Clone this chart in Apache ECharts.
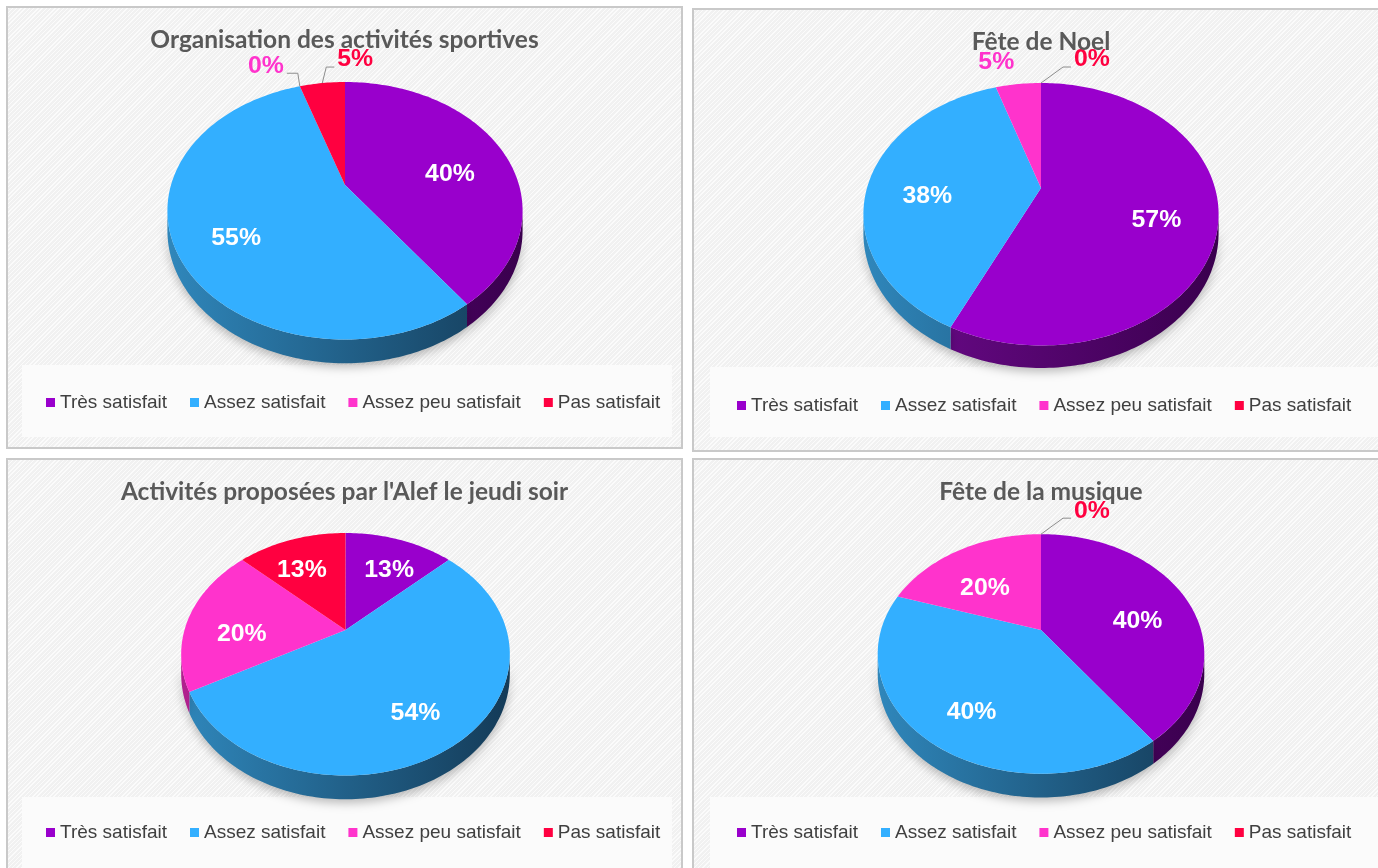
<!DOCTYPE html>
<html>
<head>
<meta charset="utf-8">
<script src="https://cdn.jsdelivr.net/npm/echarts@6/dist/echarts.min.js"></script>
<style>
  body { margin: 0; width: 1378px; height: 868px; overflow: hidden; background: #ffffff; position: relative; }
  .panel {
    position: absolute; box-sizing: border-box; border: 2px solid #c9c9c9;
    background-color: #f1f1f1;
    background-image: repeating-linear-gradient(135deg, rgba(255,255,255,0.75) 0px, rgba(255,255,255,0.75) 1px, transparent 1px, transparent 3px);
  }
  .legbox { position: absolute; background: #fbfbfb; }
  .chart { position: absolute; }
</style>
</head>
<body>
<div class="panel" style="left:6px;top:6px;width:677px;height:443px"><div class="legbox" style="left:14px;top:357px;width:650px;height:72px"></div></div>
<div class="panel" style="left:692px;top:8px;width:698px;height:444px"><div class="legbox" style="left:16px;top:357px;width:690px;height:70px"></div></div>
<div class="panel" style="left:6px;top:458px;width:677px;height:420px"><div class="legbox" style="left:14px;top:337px;width:650px;height:80px"></div></div>
<div class="panel" style="left:692px;top:458px;width:698px;height:420px"><div class="legbox" style="left:16px;top:337px;width:690px;height:80px"></div></div>

<div id="p1" class="chart" style="left:6px;top:6px;width:677px;height:443px"></div>
<div id="p2" class="chart" style="left:692px;top:8px;width:698px;height:444px"></div>
<div id="p3" class="chart" style="left:6px;top:458px;width:677px;height:420px"></div>
<div id="p4" class="chart" style="left:692px;top:458px;width:698px;height:420px"></div>

<script>
// données (%)
var categories = ['Très satisfait', 'Assez satisfait', 'Assez peu satisfait', 'Pas satisfait']
var titles = ['Organisation des activités sportives', 'Fête de Noel', "Activités proposées par l'Alef le jeudi soir", 'Fête de la musique']
var sportives = [40, 55, 0, 5]
var noel = [57, 38, 5, 0]
var jeudi = [13, 54, 20, 13]
var musique = [40, 40, 20, 0]

var colors = ['#9900cc', '#33afff', '#ff33cc', '#ff0040']
var sideColors = [['#6e0a8e', '#3a004e'], ['#2f86ba', '#143b58'], ['#b0208e', '#6d1057'], ['#b00030', '#6a0020']]

var K = 0.2 // perspective
var EDGE = Math.asin(K) // contour apparent de la tranche

// positions des camemberts (coordonnées locales de chaque panneau)
var panels = [
  { id: 'p1', values: sportives, title: titles[0], cx: 339, cy: 179, rx: 174, ry: 123.6, depth: 19, legendLeft: 35, legendTop: 382 },
  { id: 'p2', values: noel, title: titles[1], cx: 349, cy: 180, rx: 174, ry: 126, depth: 18, legendLeft: 40, legendTop: 383 },
  { id: 'p3', values: jeudi, title: titles[2], cx: 339.5, cy: 172, rx: 161, ry: 116.4, depth: 19, legendLeft: 35, legendTop: 360 },
  { id: 'p4', values: musique, title: titles[3], cx: 349, cy: 172, rx: 160, ry: 115, depth: 19, legendLeft: 40, legendTop: 360 }
]

function proj(p, ang, r, down) {
  var u = Math.cos(ang) * r
  var v = Math.sin(ang) * r
  var s = 1 / (1 - K * v)
  return [p.cx + p.rx * u * s, p.cy + (p.ry * v + (down || 0)) * s]
}

function makeRender(p, i) {
  return function(params, api) {
    var vals = p.values
    var total = 0
    var before = 0
    var lastSmall = -1
    for (var j = 0; j < vals.length; j++) {
      total += vals[j]
      if (j < i) before += vals[j]
    }
    for (j = 0; j < vals.length; j++) {
      if (vals[j] / total < 0.1) lastSmall = j
    }
    var val = api.value(0)
    var frac = val / total
    var a0 = -Math.PI / 2 + 2 * Math.PI * before / total
    var a1 = a0 + 2 * Math.PI * frac
    var children = []
    var n, k
    if (a1 > a0) {
      // face du dessus
      var pts = [proj(p, 0, 0)]
      n = Math.max(2, Math.ceil((a1 - a0) / 0.02))
      for (k = 0; k <= n; k++) pts.push(proj(p, a0 + (a1 - a0) * k / n, 1))
      children.push({ type: 'polygon', z2: 10, shape: { points: pts }, style: { fill: colors[i] } })
      // tranche (épaisseur) visible à l'avant
      var w0 = Math.max(a0, EDGE)
      var w1 = Math.min(a1, Math.PI - EDGE)
      if (w1 > w0) {
        var wall = []
        n = Math.max(2, Math.ceil((w1 - w0) / 0.02))
        for (k = 0; k <= n; k++) wall.push(proj(p, w0 + (w1 - w0) * k / n, 1))
        for (k = n; k >= 0; k--) wall.push(proj(p, w0 + (w1 - w0) * k / n, 1, p.depth))
        children.push({
          type: 'polygon', z2: 0, shape: { points: wall },
          style: {
            fill: {
              type: 'linear', x: p.cx - p.rx, y: 0, x2: p.cx + p.rx, y2: 0, global: true,
              colorStops: [{ offset: 0, color: sideColors[i][0] }, { offset: 1, color: sideColors[i][1] }]
            },
            shadowBlur: 10, shadowColor: 'rgba(0,0,0,0.25)', shadowOffsetY: 4
          }
        })
      }
    }
    // étiquettes
    var mid = (a0 + a1) / 2
    var txt = Math.round(val) + '%'
    var font = 'bold 23px "Liberation Sans", Arial, sans-serif'
    var sx = 1.08
    if (frac >= 0.1) {
      var pos = proj(p, mid, frac < 0.2 ? 0.78 : 0.66)
      children.push({
        type: 'text', z2: 20, x: pos[0], y: pos[1] + 14, scaleX: sx,
        style: { text: txt, fill: '#ffffff', font: font, align: 'center', verticalAlign: 'middle' }
      })
    } else {
      var an = proj(p, mid, 1)
      var lineStyle = { stroke: '#8c8c8c', lineWidth: 1, fill: null }
      if (i === lastSmall) {
        var el = [an[0] + (frac === 0 ? 22 : 4), an[1] - 16]
        var end = [el[0] + 8, el[1]]
        children.push({ type: 'polyline', z2: 20, shape: { points: [an, el, end] }, style: lineStyle })
        children.push({
          type: 'text', z2: 20, x: end[0] + 3, y: end[1] - 7, scaleX: sx,
          style: { text: txt, fill: colors[i], font: font, align: 'left', verticalAlign: 'middle' }
        })
      } else if (frac === 0) {
        var el2 = [an[0] - 2, an[1] - 13]
        var end2 = [el2[0] - 11, el2[1]]
        children.push({ type: 'polyline', z2: 20, shape: { points: [an, el2, end2] }, style: lineStyle })
        children.push({
          type: 'text', z2: 20, x: end2[0] - 3, y: end2[1] - 7, scaleX: sx,
          style: { text: txt, fill: colors[i], font: font, align: 'right', verticalAlign: 'middle' }
        })
      } else {
        children.push({
          type: 'text', z2: 20, x: an[0] - 4, y: an[1] - 21, scaleX: sx,
          style: { text: txt, fill: colors[i], font: font, align: 'right', verticalAlign: 'middle' }
        })
      }
    }
    return { type: 'group', children: children }
  }
}

panels.forEach(function(p) {
  var chart = echarts.init(document.getElementById(p.id))
  var option = {
    animation: false,
    color: colors,
    title: {
      text: p.title,
      left: 'center',
      top: 22,
      padding: 0,
      textStyle: { fontFamily: 'Lato', fontWeight: 'bold', fontSize: 24.5, color: '#595959' }
    },
    legend: {
      data: categories,
      left: p.legendLeft,
      top: p.legendTop,
      icon: 'rect',
      itemWidth: 9,
      itemHeight: 9,
      itemGap: 23,
      textStyle: { fontFamily: 'Liberation Sans', fontSize: 19, color: '#404040' }
    },
    series: categories.map(function(name, i) {
      return {
        type: 'custom',
        name: name,
        coordinateSystem: 'none',
        silent: true,
        itemStyle: { color: colors[i] },
        renderItem: makeRender(p, i),
        data: [p.values[i]]
      }
    })
  }
  chart.setOption(option)
})
</script>
</body>
</html>
